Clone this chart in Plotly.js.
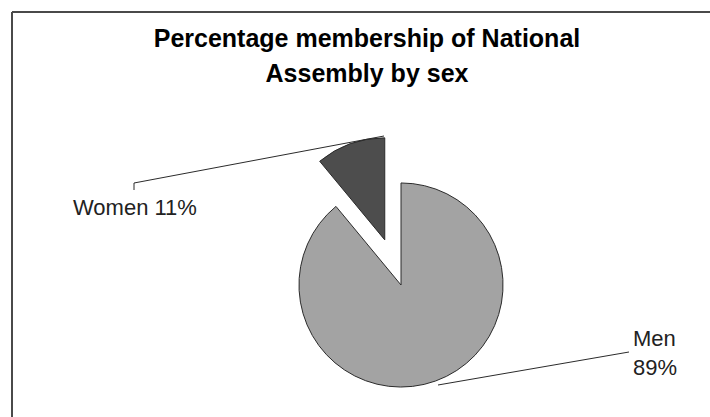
<!DOCTYPE html>
<html>
<head>
<meta charset="utf-8">
<script src="https://cdn.plot.ly/plotly-3.0.1.min.js"></script>
<style>
html, body { margin: 0; padding: 0; background: #fff; overflow: hidden; }
#chart { width: 710px; height: 470px; }
</style>
</head>
<body>
<div id="chart"></div>
<script>
// ---- data ----
const categories = ["Men", "Women"];
const percentages = [89, 11];
const sliceColors = ["#a3a3a3", "#4d4d4d"];
const pulls = [0, 0.47];
const titleLines = ["Percentage membership of National", "Assembly by sex"];

// ---- layout helpers (pixel -> paper) ----
const W = 710, H = 470;
const px = x => x / W;
const py = y => 1 - y / H;

const labelTexts = categories.map((c, i) =>
  i === 0 ? c + "<br>" + percentages[i] + "%" : c + " " + percentages[i] + "%");

const trace = {
  type: "pie",
  labels: categories,
  values: percentages,
  sort: false,
  direction: "clockwise",
  rotation: 0,
  pull: pulls,
  textinfo: "none",
  hoverinfo: "label+percent",
  marker: { colors: sliceColors, line: { color: "#2b2b2b", width: 1 } },
  domain: { x: [px(251), px(551)], y: [py(435), py(135)] },
  showlegend: false
};

const lineStyle = { color: "#2b2b2b", width: 1 };

const layout = {
  width: W,
  height: H,
  margin: { l: 0, r: 0, t: 0, b: 0 },
  paper_bgcolor: "#ffffff",
  font: { family: "Liberation Sans, Arial, sans-serif", color: "#111" },
  title: {
    text: titleLines.map(t => '<span style="font-size:25px">' + t + '</span>').join("<br>"),
    font: { size: 27, family: "Liberation Sans, Arial, sans-serif", weight: "bold", color: "#000" },
    x: 367 / W,
    xanchor: "center",
    xref: "paper",
    yref: "container",
    y: 1 - 47 / H,
    yanchor: "top"
  },
  shapes: [
    // chart frame (top & left edges, rest is cropped)
    { type: "line", xref: "paper", yref: "paper", x0: px(12), y0: py(12), x1: 1.05, y1: py(12), line: { color: "#4a4a4a", width: 2 } },
    { type: "line", xref: "paper", yref: "paper", x0: px(12), y0: py(12), x1: px(12), y1: -0.05, line: { color: "#4a4a4a", width: 2 } },
    // leader lines
    { type: "line", xref: "paper", yref: "paper", x0: px(134), y0: py(190), x1: px(134), y1: py(183), line: lineStyle },
    { type: "line", xref: "paper", yref: "paper", x0: px(134), y0: py(183), x1: px(384), y1: py(136), line: lineStyle },
    { type: "line", xref: "paper", yref: "paper", x0: px(438), y0: py(385), x1: px(629), y1: py(352), line: lineStyle }
  ],
  annotations: [
    { text: labelTexts[1], xref: "paper", yref: "paper", x: px(71), y: py(207), xanchor: "left", yanchor: "middle",
      showarrow: false, font: { size: 22, color: "#222" } },
    { text: labelTexts[0], xref: "paper", yref: "paper", x: px(631), y: py(353), xanchor: "left", yanchor: "middle",
      align: "left", showarrow: false, font: { size: 22, color: "#222" } }
  ]
};

Plotly.newPlot("chart", [trace], layout, { displayModeBar: false, staticPlot: true });
</script>
</body>
</html>
